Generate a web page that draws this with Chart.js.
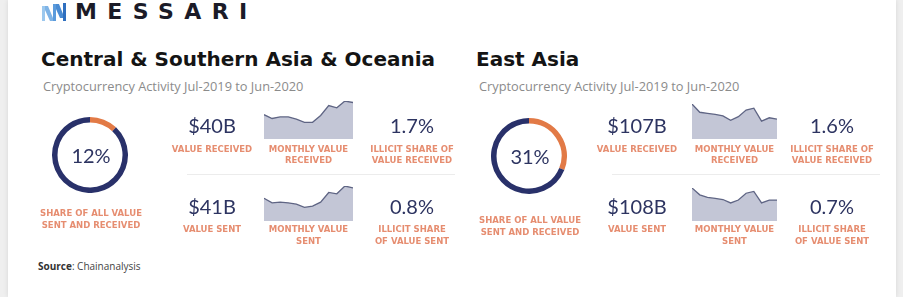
<!DOCTYPE html>
<html>
<head>
<meta charset="utf-8">
<script src="https://cdn.jsdelivr.net/npm/chart.js@4.4.0/dist/chart.umd.min.js"></script>
<style>
  html, body { margin: 0; padding: 0; }
  body { width: 903px; height: 297px; background: #efefef; overflow: hidden; position: relative; }
  #card { position: absolute; left: 8px; top: 0; width: 888px; height: 297px; background: #fff; box-shadow: 0 0 5px rgba(0,0,0,0.10); }
  .t { position: absolute; white-space: nowrap; }
  .brand { font: 700 22px "DejaVu Sans", sans-serif; letter-spacing: 10.4px; color: #1b1b28; line-height: 26px; }
  .title { font: 700 20px "DejaVu Sans", sans-serif; color: #141414; line-height: 24px; }
  .sub { font: 400 12.8px "Open Sans", sans-serif; color: #8b8b8b; line-height: 16px; }
  .big { font: 400 20px "Lato", sans-serif; color: #2d3461; line-height: 24px; }
  .lab { font: 700 8.5px "DejaVu Sans", sans-serif; color: #e68d70; line-height: 11.3px; }
  .src { font: 400 10px "Open Sans", sans-serif; color: #444; line-height: 14px; }
  .src b { font-weight: 700; color: #333; }
  .rule { position: absolute; height: 1px; background: #ececec; }
  canvas { position: absolute; }
</style>
</head>
<body>
<div id="card"></div>
<svg style="position:absolute;left:0;top:0" width="80" height="26">
  <polygon points="42,6 45,6 45,21 42,21" fill="#9cc8ee"/>
  <polygon points="45,6 48,6 53,18 53,21 50,21 45,10" fill="#7eb3e6"/>
  <polygon points="53,4 56,4 56,21 53,21" fill="#5b9bdc"/>
  <polygon points="56,4 59,4 63,14 63,18 60,18 56,9" fill="#4a8bd2"/>
  <polygon points="63,3 66,3 66,21 63,21" fill="#2f6fbf"/>
</svg>
<script>
// Monthly cryptocurrency activity, Jul-2019 to Jun-2020 (US$ billions)
const months = ['Jul-2019','Aug-2019','Sep-2019','Oct-2019','Nov-2019','Dec-2019',
                'Jan-2020','Feb-2020','Mar-2020','Apr-2020','May-2020','Jun-2020'];

const regions = ['Central & Southern Asia & Oceania', 'East Asia'];
const subtitle = 'Cryptocurrency Activity Jul-2019 to Jun-2020';

// share of all value sent and received worldwide (%)
const shareOfAll = [12, 31];
// totals (US$ billions)
const valueReceived = [40, 107];
const valueSent = [41, 108];
// illicit share (%)
const illicitReceived = [1.7, 1.6];
const illicitSent = [0.8, 0.7];

// monthly value received / sent (US$ billions)
const csaoMonthlyReceived = [3.2, 2.7, 2.9, 2.9, 2.6, 2.2, 2.2, 3.1, 4.4, 4.1, 5.0, 4.8];
const csaoMonthlySent     = [3.5, 2.8, 2.9, 2.8, 2.6, 2.1, 2.3, 2.9, 4.4, 4.2, 5.4, 5.1];
const eaMonthlyReceived   = [12.7, 9.7, 9.3, 8.9, 8.4, 6.8, 8.1, 10.5, 11.2, 6.5, 7.7, 7.2];
const eaMonthlySent       = [12.6, 10.0, 9.0, 8.6, 8.2, 6.9, 8.0, 10.6, 11.3, 6.9, 8.0, 8.0];

const COLORS = { region: '#e27a46', rest: '#29316a', fill: '#c3c6d6', line: '#5f6584' };

// ---- layout of the two region panels ----
const panels = [
  { titleX: 41, subX: 43, donut: { cx: 90, cy: 155 }, shareY: 214, col1: 212,
    spark: { x: 264, w: 89 }, recvTop: 100, recvH: 39, sentTop: 185, sentH: 36, col3: 412,
    rule: { x: 187, w: 268 }, monthlyRecv: csaoMonthlyReceived, monthlySent: csaoMonthlySent },
  { titleX: 476, subX: 479, donut: { cx: 529, cy: 156 }, shareY: 221, col1: 637,
    spark: { x: 692, w: 85 }, recvTop: 103, recvH: 36, sentTop: 187, sentH: 34, col3: 832,
    rule: { x: 612, w: 268 }, monthlyRecv: eaMonthlyReceived, monthlySent: eaMonthlySent }
];

function text(html, cls, x, cy, lh, center) {
  const d = document.createElement('div');
  d.className = 't ' + cls;
  d.innerHTML = html;
  d.style.top = (cy - lh / 2) + 'px';
  if (center) { d.style.left = (x - 150) + 'px'; d.style.width = '300px'; d.style.textAlign = 'center'; }
  else d.style.left = x + 'px';
  document.body.appendChild(d);
  return d;
}

// two-line caption: cy is the centre of its first line
function caption(html, x, cy) {
  return text(html, 'lab', x, cy + 5.65, 11.3 * 2, true);
}

function canvasAt(x, y, w, h) {
  const c = document.createElement('canvas');
  c.width = w; c.height = h;
  c.style.left = x + 'px'; c.style.top = y + 'px';
  c.style.width = w + 'px'; c.style.height = h + 'px';
  document.body.appendChild(c);
  return c.getContext('2d');
}

function donut(ctx, share) {
  new Chart(ctx, {
    type: 'doughnut',
    data: { labels: ['Region', 'Rest of world'],
            datasets: [{ data: [share, 100 - share], backgroundColor: [COLORS.region, COLORS.rest], borderWidth: 0 }] },
    options: { responsive: false, animation: false, events: [], cutout: '85.5%',
               plugins: { legend: { display: false }, tooltip: { enabled: false } } }
  });
}

function spark(ctx, data) {
  new Chart(ctx, {
    type: 'line',
    data: { labels: months,
            datasets: [{ data: data, fill: 'origin', backgroundColor: COLORS.fill, borderColor: COLORS.line,
                         borderWidth: 1.3, pointRadius: 0, tension: 0 }] },
    options: { responsive: false, animation: false, events: [],
               layout: { padding: { top: 1, left: 0, right: 0, bottom: 0 } },
               plugins: { legend: { display: false }, tooltip: { enabled: false } },
               scales: { x: { display: false, offset: false },
                         y: { display: false, min: 0, max: Math.max(...data) } } }
  });
}

text('MESSARI', 'brand', 75, 12.4, 26, false);

panels.forEach((p, i) => {
  text(regions[i].replace(/&/g, '&amp;'), 'title', p.titleX, 58.5, 24, false);
  text(subtitle, 'sub', p.subX, 86, 16, false);

  const r = 38;
  donut(canvasAt(p.donut.cx - r, p.donut.cy - r, 2 * r, 2 * r), shareOfAll[i]);
  text(shareOfAll[i] + '%', 'big', p.donut.cx + 1, p.donut.cy, 24, true);
  caption('SHARE OF ALL VALUE<br>SENT AND RECEIVED', p.donut.cx + 1, p.shareY);

  // received row
  text('$' + valueReceived[i] + 'B', 'big', p.col1, 125, 24, true);
  text('VALUE RECEIVED', 'lab', p.col1, 149.3, 11.3, true);
  spark(canvasAt(p.spark.x, p.recvTop, p.spark.w, p.recvH), p.monthlyRecv);
  caption('MONTHLY VALUE<br>RECEIVED', p.spark.x + p.spark.w / 2, 149.3);
  text(illicitReceived[i].toFixed(1) + '%', 'big', p.col3, 125, 24, true);
  caption('ILLICIT SHARE OF<br>VALUE RECEIVED', p.col3, 149.3);

  const rule = document.createElement('div');
  rule.className = 'rule';
  rule.style.left = p.rule.x + 'px'; rule.style.width = p.rule.w + 'px'; rule.style.top = '174px';
  document.body.appendChild(rule);

  // sent row
  text('$' + valueSent[i] + 'B', 'big', p.col1, 206, 24, true);
  text('VALUE SENT', 'lab', p.col1, 230, 11.3, true);
  spark(canvasAt(p.spark.x, p.sentTop, p.spark.w, p.sentH), p.monthlySent);
  caption('MONTHLY VALUE<br>SENT', p.spark.x + p.spark.w / 2, 230);
  text(illicitSent[i].toFixed(1) + '%', 'big', p.col3, 206, 24, true);
  caption('ILLICIT SHARE<br>OF VALUE SENT', p.col3, 230);
});

text('<b>Source</b>: Chainanalysis', 'src', 38, 266, 14, false);
</script>
</body>
</html>
